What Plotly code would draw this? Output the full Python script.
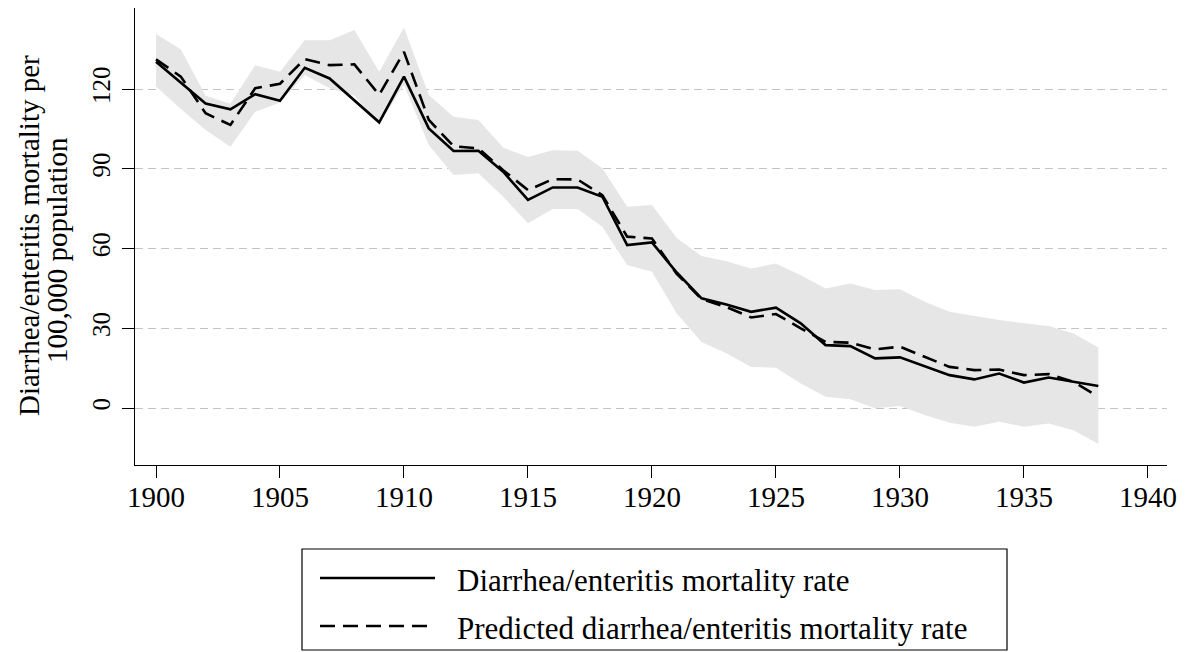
import plotly.graph_objects as go

years = list(range(1900, 1939))

actual = [130.3, 122.4, 114.6, 112.4, 118.1, 115.6, 128.0, 124.0, 115.9, 107.5,
          124.7, 105.2, 96.7, 96.8, 88.9, 78.3, 83.0, 83.0, 79.5, 61.3,
          62.3, 51.0, 41.3, 39.0, 36.2, 37.8, 31.9, 23.7, 23.3, 18.7,
          19.1, 15.8, 12.4, 10.8, 13.0, 9.6, 11.5, 9.9, 8.3]

predicted = [131.2, 124.7, 110.9, 106.5, 120.3, 122.0, 131.3, 129.0, 129.3, 117.8,
             134.0, 108.4, 98.5, 97.7, 89.5, 82.0, 86.1, 86.0, 80.1, 64.5,
             63.8, 50.5, 41.0, 38.0, 34.1, 35.4, 30.0, 24.9, 24.6, 22.1,
             23.1, 19.3, 15.5, 14.3, 14.5, 12.4, 12.8, 9.9, 4.3]

upper = [140.7, 135.0, 117.5, 114.5, 129.0, 126.5, 138.4, 138.4, 142.2, 126.5,
         143.2, 117.8, 109.6, 108.4, 98.0, 94.5, 97.0, 96.8, 90.2, 75.7,
         76.4, 64.0, 57.2, 55.2, 52.5, 54.4, 50.0, 45.0, 46.9, 44.4,
         44.7, 40.0, 36.2, 34.6, 33.1, 31.9, 30.9, 28.1, 22.8]

lower = [121.0, 112.5, 104.6, 98.3, 111.5, 115.0, 125.3, 120.3, 117.5, 107.0,
         121.5, 99.0, 87.7, 88.3, 79.5, 69.5, 74.9, 74.9, 68.2, 53.8,
         51.3, 35.6, 24.9, 20.6, 15.5, 15.2, 9.3, 4.3, 3.3, -0.1,
         0.75, -2.6, -5.5, -7.0, -5.1, -7.0, -5.8, -8.3, -13.5]

x_ticks = [1900, 1905, 1910, 1915, 1920, 1925, 1930, 1935, 1940]
y_ticks = [0, 30, 60, 90, 120]

series_names = ["Diarrhea/enteritis mortality rate",
                "Predicted diarrhea/enteritis mortality rate"]
y_title_lines = ["Diarrhea/enteritis mortality per", "100,000 population"]

FONT = "Liberation Serif"
BAND = "#e6e6e6"
DASH = "15px,8px"

fig = go.Figure()
fig.add_trace(go.Scatter(x=years, y=lower, mode="lines", line=dict(width=0, color=BAND),
                         showlegend=False, hoverinfo="skip"))
fig.add_trace(go.Scatter(x=years, y=upper, mode="lines", line=dict(width=0, color=BAND),
                         fill="tonexty", fillcolor=BAND, showlegend=False, hoverinfo="skip"))
fig.add_trace(go.Scatter(x=years, y=actual, mode="lines", name=series_names[0],
                         line=dict(color="black", width=2.6)))
fig.add_trace(go.Scatter(x=years, y=predicted, mode="lines", name=series_names[1],
                         line=dict(color="black", width=2.6, dash=DASH)))

# plot area in px: left 135, right 1167, top 8, bottom 465
L, R, T, B = 135, 1167, 8, 465
W, H = R - L, B - T


def px_x(p):
    return (p - L) / W


def px_y(p):
    return (B - p) / H


shapes = [
    dict(type="rect", xref="paper", yref="paper",
         x0=px_x(302), x1=px_x(1007), y0=px_y(650), y1=px_y(549),
         line=dict(color="black", width=1.2), fillcolor="white"),
    dict(type="line", xref="paper", yref="paper",
         x0=px_x(320), x1=px_x(435), y0=px_y(578), y1=px_y(578),
         line=dict(color="black", width=2.6)),
    dict(type="line", xref="paper", yref="paper",
         x0=px_x(320), x1=px_x(435), y0=px_y(626), y1=px_y(626),
         line=dict(color="black", width=2.6, dash=DASH)),
]
annotations = [
    dict(xref="paper", yref="paper", x=px_x(455), y=px_y(580), text=series_names[0],
         showarrow=False, xanchor="left", yanchor="middle",
         font=dict(family=FONT, size=31, color="black")),
    dict(xref="paper", yref="paper", x=px_x(455), y=px_y(628), text=series_names[1],
         showarrow=False, xanchor="left", yanchor="middle",
         font=dict(family=FONT, size=31, color="black")),
    dict(xref="paper", yref="paper", x=px_x(29), y=px_y(236), text=y_title_lines[0],
         showarrow=False, xanchor="center", yanchor="middle", textangle=-90,
         font=dict(family=FONT, size=29, color="black")),
    dict(xref="paper", yref="paper", x=px_x(57), y=px_y(250), text=y_title_lines[1],
         showarrow=False, xanchor="center", yanchor="middle", textangle=-90,
         font=dict(family=FONT, size=29, color="black")),
]

fig.update_layout(
    width=1190, height=652,
    margin=dict(l=L, r=1190 - R, t=T, b=652 - B, autoexpand=False),
    paper_bgcolor="white", plot_bgcolor="white",
    font=dict(family=FONT, size=24, color="black"),
    showlegend=False,
    shapes=shapes,
    annotations=annotations,
)
fig.update_xaxes(
    range=[1899.153, 1940.77], tickvals=x_ticks, ticks="outside", ticklen=12,
    tickwidth=1.3, tickcolor="black", showline=True, linecolor="black", linewidth=1.3,
    showgrid=False, zeroline=False, ticklabelstandoff=-6,
    tickfont=dict(family=FONT, size=29, color="black"),
)
fig.update_yaxes(
    range=[-21.4, 150.5], tickvals=y_ticks, ticks="outside", ticklen=12,
    tickwidth=1.3, tickcolor="black", showline=True, linecolor="black", linewidth=1.3,
    showgrid=True, gridcolor="#bfc4c4", gridwidth=1.3, griddash="8px,5px",
    zeroline=False, tickangle=-90, ticklabelstandoff=2,
    tickfont=dict(family=FONT, size=25, color="black"),
)

fig.write_html(
    "out.html",
    config={"displayModeBar": False},
    post_script="document.body.style.margin='0px';document.body.style.overflow='hidden';",
)
